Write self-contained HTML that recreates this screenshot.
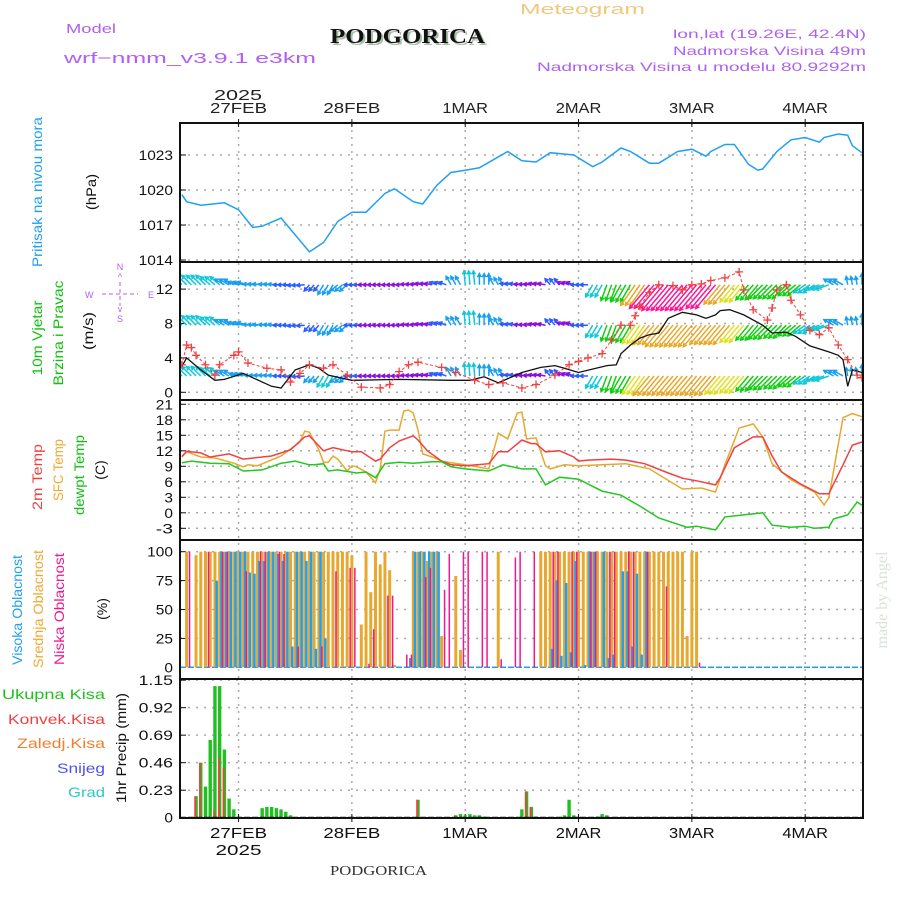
<!DOCTYPE html>
<html><head><meta charset="utf-8"><style>
html,body{margin:0;padding:0;background:#fff;}
svg{display:block;font-family:"Liberation Sans",sans-serif;}
</style></head><body>
<svg id="chart" width="900" height="900" viewBox="0 0 900 900" xmlns="http://www.w3.org/2000/svg">
<defs>
<clipPath id="cw"><rect x="180" y="262" width="683" height="138"/></clipPath>
<clipPath id="cp"><rect x="180" y="123" width="683" height="139"/></clipPath>
</defs>
<g>
<text x="66" y="33" font-size="13" fill="#b060f0" textLength="50" lengthAdjust="spacingAndGlyphs">Model</text>
<text x="64" y="63" font-size="15" fill="#b060f0" textLength="252" lengthAdjust="spacingAndGlyphs">wrf−nmm_v3.9.1 e3km</text>
<text x="332" y="45" font-family="Liberation Serif,serif" font-weight="bold" font-size="21" fill="#a8c0a8" textLength="155" lengthAdjust="spacingAndGlyphs">PODGORICA</text>
<text x="330" y="43" font-family="Liberation Serif,serif" font-weight="bold" font-size="21" fill="#111" textLength="155" lengthAdjust="spacingAndGlyphs">PODGORICA</text>
<text x="520" y="14" font-size="15" fill="#f0c880" textLength="125" lengthAdjust="spacingAndGlyphs">Meteogram</text>
<text x="673" y="38" font-size="12" fill="#b060f0" textLength="193" lengthAdjust="spacingAndGlyphs">lon,lat (19.26E, 42.4N)</text>
<text x="673" y="55" font-size="12" fill="#b060f0" textLength="193" lengthAdjust="spacingAndGlyphs">Nadmorska Visina 49m</text>
<text x="537" y="71" font-size="12" fill="#b060f0" textLength="329" lengthAdjust="spacingAndGlyphs">Nadmorska Visina u modelu 80.9292m</text>
<text x="238" y="100" font-size="15" fill="#222" text-anchor="middle" textLength="48" lengthAdjust="spacingAndGlyphs">2025</text>
<text x="330" y="875" font-family="Liberation Serif,serif" font-size="14" fill="#333" textLength="97" lengthAdjust="spacingAndGlyphs">PODGORICA</text>
<text transform="translate(887,600) rotate(-90)" text-anchor="middle" font-family="Liberation Serif,serif" font-size="16" fill="#d8e2d8">made by Angel</text>
</g>
<g font-size="14">
<text transform="translate(42,192) rotate(-90)" text-anchor="middle" fill="#20a0f0" textLength="150" lengthAdjust="spacingAndGlyphs">Pritisak na nivou mora</text>
<text transform="translate(96,192) rotate(-90)" text-anchor="middle" fill="#111" textLength="36" lengthAdjust="spacingAndGlyphs">(hPa)</text>
<text transform="translate(42,338) rotate(-90)" text-anchor="middle" fill="#10c010" textLength="75" lengthAdjust="spacingAndGlyphs">10m Vjetar</text>
<text transform="translate(63,333) rotate(-90)" text-anchor="middle" fill="#10c010" textLength="105" lengthAdjust="spacingAndGlyphs">Brzina i Pravac</text>
<text transform="translate(93,331) rotate(-90)" text-anchor="middle" fill="#111" textLength="38" lengthAdjust="spacingAndGlyphs">(m/s)</text>
<g fill="#b060f0" font-size="9">
<text x="120" y="270" text-anchor="middle">N</text><text x="120" y="280" text-anchor="middle">^</text>
<text x="85" y="298">W</text><text x="148" y="298">E</text>
<text x="120" y="312" text-anchor="middle">v</text><text x="120" y="322" text-anchor="middle">S</text>
<line x1="102" y1="294" x2="138" y2="294" stroke="#b060f0" stroke-dasharray="4,3"/>
<line x1="120" y1="282" x2="120" y2="306" stroke="#b060f0" stroke-dasharray="4,3"/>
</g>
<text transform="translate(42,477) rotate(-90)" text-anchor="middle" fill="#f04040" textLength="66" lengthAdjust="spacingAndGlyphs">2m Temp</text>
<text transform="translate(63,470) rotate(-90)" text-anchor="middle" fill="#f0a830" textLength="62" lengthAdjust="spacingAndGlyphs">SFC Temp</text>
<text transform="translate(84,475) rotate(-90)" text-anchor="middle" fill="#10c010" textLength="80" lengthAdjust="spacingAndGlyphs">dewpt Temp</text>
<text transform="translate(105,470) rotate(-90)" text-anchor="middle" fill="#111">(C)</text>
<text transform="translate(22,610) rotate(-90)" text-anchor="middle" fill="#20a0f0" textLength="110" lengthAdjust="spacingAndGlyphs">Visoka Oblacnost</text>
<text transform="translate(43,609) rotate(-90)" text-anchor="middle" fill="#f0a830" textLength="118" lengthAdjust="spacingAndGlyphs">Srednja Oblacnost</text>
<text transform="translate(64,609) rotate(-90)" text-anchor="middle" fill="#f01890" textLength="112" lengthAdjust="spacingAndGlyphs">Niska Oblacnost</text>
<text transform="translate(107,609) rotate(-90)" text-anchor="middle" fill="#111">(%)</text>
<text x="105" y="699" text-anchor="end" fill="#20c020" textLength="103" lengthAdjust="spacingAndGlyphs">Ukupna Kisa</text>
<text x="105" y="724" text-anchor="end" fill="#f04040" textLength="97" lengthAdjust="spacingAndGlyphs">Konvek.Kisa</text>
<text x="105" y="748" text-anchor="end" fill="#f08030" textLength="88" lengthAdjust="spacingAndGlyphs">Zaledj.Kisa</text>
<text x="105" y="773" text-anchor="end" fill="#5050f0" textLength="48" lengthAdjust="spacingAndGlyphs">Snijeg</text>
<text x="105" y="797" text-anchor="end" fill="#30c8c8" textLength="37" lengthAdjust="spacingAndGlyphs">Grad</text>
<text transform="translate(126,748) rotate(-90)" text-anchor="middle" fill="#111" textLength="110" lengthAdjust="spacingAndGlyphs">1hr Precip (mm)</text>
</g>
<g id="grid"></g>
<g id="marks"></g>
<g id="frames"></g>
</svg>
<script>
const pressHours=[0,1,4,9,12,15,17,21,27,30,33,36,39,43,45,49,51,54,57,60,63,66,69,72,75,78,83,87,89,93,95,99,101,105,108,111,112,115,117,120,122,123,126,129,132,135,136,139,141,142,144];
const pressVals=[1019.6,1019.0,1018.7,1018.9,1018.3,1016.8,1016.9,1017.6,1014.7,1015.5,1017.3,1018.1,1018.1,1019.7,1020.1,1019.0,1018.8,1020.4,1021.5,1021.7,1021.9,1022.6,1023.3,1022.5,1022.4,1023.2,1023.0,1022.0,1022.4,1023.6,1023.3,1022.3,1022.3,1023.3,1023.5,1022.9,1023.3,1023.9,1023.9,1022.2,1021.7,1021.8,1023.3,1024.3,1024.5,1024.1,1024.5,1024.8,1024.7,1023.8,1023.2];
const pressTicks=[1014,1017,1020,1023];
const t2Hours=[0,1,4,6,10,13,19,23,26,27,30,32,36,38,41,42,44,46,49,50,52,55,57,60,65,67,69,72,74,75,77,80,83,84,86,91,94,98,103,106,109,113,114,117,121,123,125,127,131,135,137,140,142,144];
const t2Vals=[10.9,11.9,11.6,10.8,11.4,10.4,11.0,12.2,14.7,14.9,12,12.6,11.8,11.8,10.0,10.4,12.6,13.9,14.9,14.1,12,10,9.3,9.1,9.5,11.8,11.8,14.1,13.4,13.4,11.8,12,10.8,10,10.2,10.4,10.2,9.5,7.7,6.7,6.2,5.4,6.8,12.6,14.7,14.7,11,7.9,5.6,3.7,3.7,9.3,13.1,13.7];
const sfcHours=[0,1,4,7,11,13,14,16,21,25,26,27,29,30,31,32,33,35,36,37,39,41,42,43,44,46,47,48,49,50,51,53,55,57,60,65,67,69,71,72,73,75,77,78,81,84,89,94,99,106,110,113,115,118,121,123,125,129,134,136,137,140,142,144];
const sfcVals=[10.8,11.8,10.8,10.6,9.6,8.9,9.3,9.1,11,13.7,15.8,15.6,12.2,9.8,9.8,11,10.4,8.1,9.1,8.9,7.9,5.8,8.5,15.8,16,16,19.7,19.9,19.3,16,11.4,10.8,10,9.7,9.3,8.5,15.4,14.3,19.3,19.5,14.3,14.5,9.1,8.5,9.3,9.1,9.3,9.5,8.5,4.6,4.8,4.0,9.3,16.4,17.2,14.7,9.5,6.4,4,1.5,2.9,18.4,19.2,18.6];
const dewHours=[0,2,6,10,13,17,21,24,27,28,30,31,33,37,39,41,43,46,49,53,55,57,60,65,68,72,75,77,80,84,89,93,97,101,107,109,113,115,119,123,125,129,132,134,137,138,141,143,144];
const dewVals=[9.7,10,9.6,9.5,8.1,8.3,9.6,10,9.3,9.3,9.5,8.1,8.3,7.7,7.9,6.8,9.5,9.8,9.6,9.9,9.9,8.9,8.5,8.1,9.3,8.5,8.5,5.4,6.9,6.5,4.2,3.4,1.3,-1.0,-2.8,-2.6,-3.3,-0.8,-0.4,0.0,-2.4,-2.8,-2.6,-3,-2.8,-1.2,-0.4,2.1,1.5];
const tempTicks=[-3,0,3,6,9,12,15,18,21];
const wsHours=[0,1,4,7,9,13,15,19,21,24,27,29,31,36,46,57,61,64,67,72,76,79,81,84,90,92,93,95,97,99,101,103,106,109,111,113,114,116,119,123,125,128,130,133,137,139,140,141,142,144];
const wsVals=[3.0,4.0,2.6,1.4,1.5,2.2,1.7,0.7,0.5,2.6,3.2,2.8,2.0,1.4,1.5,1.4,1.4,1.8,1.1,2.3,2.9,3.1,2.8,2.3,3.1,3.2,4.5,5.5,6.3,6.7,6.9,8.6,9.3,9.0,8.6,9.0,9.5,9.6,9.0,7.8,6.9,7.0,6.5,5.4,4.7,4.3,3.8,0.7,2.6,2.3];
const gustHours=[0,1,2,3,5,7,8,11,12,14,18,21,23,25,27,30,32,35,38,42,44,46,48,50,55,58,62,65,68,72,75,79,82,84,86,89,91,93,95,96,97,99,101,104,106,108,110,112,115,118,119,121,124,125,126,128,129,131,133,135,137,139,141,143,144];
const gustVals=[3.2,5.5,5.2,4.3,3.2,2.0,3.2,4.3,4.7,3.4,2.8,2.6,1.2,2.2,3.2,2.8,3.2,2.0,0.6,0.5,0.9,2.4,3.2,3.5,2.9,2.3,1.4,0.9,1.1,0.5,0.9,2.0,3.2,3.6,4.0,4.5,6.1,7.8,7.8,8.9,10.0,11.6,12.5,12.4,11.9,12.5,12.6,13.0,13.3,14.0,11.9,9.6,8.4,9.8,11.9,12.5,10.7,9.0,7.2,6.7,7.5,5.5,3.8,2.0,1.7];
const windTicks=[0,4,8,12];
const arrowHours=[0,3,6,9,12,15,18,21,24,27,30,33,36,39,42,45,48,51,54,57,60,63,66,69,72,75,78,81,84,87,90,93,96,99,102,105,108,111,114,117,120,123,126,129,132,135,138,141,144];
const arrowDir=[135,135,140,150,165,175,175,180,185,230,240,220,180,180,180,180,175,170,160,120,95,90,120,170,175,170,130,160,180,240,250,240,235,230,230,230,230,230,230,230,230,225,225,220,215,200,150,100,90];
const arrowRowLevels=[12.5,7.8,1.9];
const windRow1=[4.8,4.8,4.5,4,4,3.5,3,2.5,2,2.5,4,3.5,2,1.5,1.5,1.5,1.5,1.5,2,3.5,5,4,3,2,1.5,1.5,2.5,1.5,2,5,6,7,9,11,12,12,12,11,9,8,7,7,7,6,5,5,4,3,4];
const windRow2=[4.8,4.8,4.5,4,4,3.5,3,2.5,2,2.5,4,3.5,2,1.5,1.5,1.5,1.5,1.5,2,3.5,5,4,3,2,1.5,1.5,2.5,1.5,2,5,6,7,8,9,10,10,10,9,9,8,7,7,6.5,6,5,5,4,3,4];
const windRow3=[4.8,4.8,4.5,4,3.5,3,3,2.5,2,3,4.5,3.5,2,1.5,1.5,1.5,1.5,1.5,2,3.5,4.5,4,3,2,1.5,1.5,2.5,1.5,2,5,6,7,8,9,9,9,9,9,8.5,8,7,7,6.5,6,5,5,4,3,4];
const highHours=[7,8,9,10,11,12,13,14,15,16,17,18,19,20,21,22,23,24,25,26,27,28,29,30,48,49,50,51,52,53,54,78,79,80,81,82,83,85,86,87,89,90,91,93,94,95,96,97,98];
const highVals=[75,100,100,100,100,100,100,82,81,92,92,100,100,98,92,100,18,100,100,92,100,16,100,25,8,100,100,100,100,100,100,16,75,10,73,13,92,2,100,100,100,8,11,83,83,18,81,11,100];
const midHours=[1,3,4,5,6,7,8,9,10,11,12,13,14,15,16,17,18,19,20,21,22,23,24,25,26,27,28,29,30,31,32,33,34,35,36,38,39,40,41,42,43,44,45,49,50,51,52,53,54,55,58,59,67,76,77,78,79,80,81,82,83,84,85,86,87,88,89,90,91,92,93,94,95,96,97,98,99,100,101,102,103,104,105,106,107,108,109];
const midVals=[100,97,100,100,100,100,100,100,100,100,100,100,100,100,100,100,100,100,100,100,100,100,100,100,100,100,100,100,100,100,100,100,100,100,97,37,100,65,100,89,100,84,2,100,100,100,92,100,100,27,79,15,100,100,100,100,100,100,100,100,100,100,100,100,100,100,100,100,100,100,100,100,100,100,100,100,100,100,100,100,100,100,100,100,27,100,100];
const lowHours=[2,6,9,10,14,17,18,21,22,25,30,33,36,37,40,41,44,45,48,49,52,53,56,57,60,61,64,65,68,71,72,75,79,80,83,84,87,88,91,92,95,96,99,103,110];
const lowVals=[100,100,100,100,83,100,100,100,98,18,18,83,86,86,3,33,62,62,11,11,78,86,67,98,100,100,100,100,7,95,100,100,100,100,100,100,100,100,100,100,100,100,100,70,4];
const cloudTicks=[0,25,50,75,100];
const precipHours=[3,4,5,6,7,8,9,10,11,17,18,19,20,21,22,23,50,58,59,60,61,62,63,64,72,73,74,75,81,82,83,88,89,90];
const precipTotal=[0.18,0.46,0.26,0.65,1.1,1.1,0.57,0.16,0.07,0.08,0.09,0.09,0.08,0.07,0.05,0.02,0.15,0.02,0.03,0.02,0.03,0.02,0.02,0.01,0.07,0.22,0.09,0.01,0.02,0.15,0.02,0.01,0.03,0.02];
const precipConv=[0.18,0.46,0,0,0.06,0.5,0.42,0,0,0,0,0,0,0,0,0,0.15,0.02,0,0,0,0,0,0,0,0.22,0.09,0,0,0,0,0,0,0];
const precipTicks=[0,0.23,0.46,0.69,0.92,1.15];
const dayHours=[12,36,60,84,108,132];
const dayLabels=["27FEB","28FEB","1MAR","2MAR","3MAR","4MAR"];

const NS="http://www.w3.org/2000/svg";
const X=h=>180+(h+0.4)*4.722;
const YP=p=>155+(1023-p)*11.67;
const YW=v=>392.3-v*8.6;
const YT=t=>404.3+(21-t)*5.167;
const YC=c=>667.3-c*1.156;
const YR=r=>817.7-r*119.6;
const grid=document.getElementById('grid'),marks=document.getElementById('marks'),frames=document.getElementById('frames');
function mk(tag,attrs,parent){const e=document.createElementNS(NS,tag);for(const k in attrs)e.setAttribute(k,attrs[k]);parent.appendChild(e);return e;}
function txt(s,attrs,parent){const e=mk('text',attrs,parent);e.textContent=s;return e;}
const panels=[[123,262],[262,400],[400,540],[540,679],[679,818]];
dayHours.forEach((h,i)=>{
  const l=mk('line',{x1:X(h),x2:X(h),y1:123,y2:818,stroke:'#aaa','stroke-dasharray':'2,5','stroke-width':1.5},grid);
  
  
  const tl=dayLabels[i].length*11.4;
  const t=txt(dayLabels[i],{x:X(h),y:113,'font-size':15,'text-anchor':'middle',fill:'#222',textLength:tl,lengthAdjust:'spacingAndGlyphs'},grid);
  
  
  const b=txt(dayLabels[i],{x:X(h),y:838,'font-size':15,'text-anchor':'middle',fill:'#111',textLength:tl,lengthAdjust:'spacingAndGlyphs'},grid);
  
  
  [123,818].forEach(y=>mk('line',{x1:X(h),x2:X(h),y1:y-4,y2:y+4,stroke:'#111'},grid));
});
const yb=txt('2025',{x:X(12),y:855,'font-size':15,'text-anchor':'middle',fill:'#111',textLength:46,lengthAdjust:'spacingAndGlyphs'},grid);


function hticks(ticks,fy,fmt,name){
  ticks.forEach(v=>{
    const y=fy(v);
    const g=mk('line',{x1:180,x2:863,y1:y,y2:y,stroke:'#aaa','stroke-dasharray':'2,6','stroke-width':1.5},grid);
    
    
    mk('line',{x1:180,x2:186,y1:y,y2:y,stroke:'#111'},grid);
    const s=fmt(v);
    const t=txt(s,{x:173,y:y+5,'font-size':14,'text-anchor':'end',fill:'#111',textLength:s.length*8.6,lengthAdjust:'spacingAndGlyphs'},grid);
    
    
  });
}
hticks(pressTicks,YP,v=>String(v),'pressure');
hticks(windTicks,YW,v=>String(v),'wind');
hticks(tempTicks,YT,v=>String(v),'temp');
hticks(cloudTicks,YC,v=>String(v),'cloud');
hticks(precipTicks,YR,v=>v===0?'0':v.toFixed(2),'precip');

function line(hs,vs,fy,color,name,w,parent,extra){
  const d=hs.map((h,i)=>(i?'L':'M')+X(h).toFixed(1)+','+fy(vs[i]).toFixed(1)).join('');
  const p=mk('path',Object.assign({d:d,fill:'none',stroke:color,'stroke-width':w||1.5},extra||{}),parent||marks);
  
  
  return p;
}
const pg=mk('g',{'clip-path':'url(#cp)'},marks);
line(pressHours,pressVals,YP,'#20a0f0','pressure-line',1.5,pg);
const wg=mk('g',{'clip-path':'url(#cw)'},marks);
function wcol(s){return s<2?'#8a10e0':s<3?'#2a5cff':s<4.5?'#18a0f0':s<5.5?'#10c8d8':s<7.5?'#10d010':s<9?'#e0e020':s<10.5?'#e8a828':'#ff1493';}
[windRow1,windRow2,windRow3].forEach((row,ri)=>{
  const y0=YW(arrowRowLevels[ri]);
  arrowHours.forEach((h,i)=>{
    for(let k=0;k<3;k++){
      if(h+k>144)break;
      const s=row[i],a=arrowDir[i]*Math.PI/180,L=Math.max(8,s*2.8);
      const x0=X(h+k),x1=x0+Math.cos(a)*L,y1=y0-Math.sin(a)*L;
      const c=wcol(s);
      const hl=4,a1=a+Math.PI-0.5,a2=a+Math.PI+0.5;
      const ar=mk('path',{d:`M${x0.toFixed(1)},${y0.toFixed(1)}L${x1.toFixed(1)},${y1.toFixed(1)}M${(x1+Math.cos(a1)*hl).toFixed(1)},${(y1-Math.sin(a1)*hl).toFixed(1)}L${x1.toFixed(1)},${y1.toFixed(1)}L${(x1+Math.cos(a2)*hl).toFixed(1)},${(y1-Math.sin(a2)*hl).toFixed(1)}`,stroke:c,'stroke-width':1.5,fill:'none'},wg);
      
      
    }
  });
});
line(wsHours,wsVals,YW,'#111','wind-speed-line',1.3,wg);
line(gustHours,gustVals,YW,'#f04040','wind-gust-line',1,wg,{'stroke-dasharray':'3,2'});
gustHours.forEach((h,i)=>{
  const x=X(h),y=YW(gustVals[i]);
  const c=mk('path',{d:`M${x-4},${y}h8M${x},${y-4}v8`,stroke:'#f04040','stroke-width':1.3},wg);
  
  
});
line(sfcHours,sfcVals,YT,'#e8a830','sfc-temp-line',1.5);
line(t2Hours,t2Vals,YT,'#f04040','temp-2m-line',1.5);
line(dewHours,dewVals,YT,'#20c820','dewpoint-line',1.5);
mk('line',{x1:180,x2:863,y1:YC(0),y2:YC(0),stroke:'#20a0f0','stroke-width':1.5,'stroke-dasharray':'6,2'},marks);
midHours.forEach((h,i)=>{
  const r=mk('rect',{x:X(h)-1.5,y:YC(midVals[i]),width:3,height:YC(0)-YC(midVals[i]),fill:'#e8a830'},marks);
  
  
});
highHours.forEach((h,i)=>{
  const r=mk('rect',{x:X(h)+0.5,y:YC(highVals[i]),width:2.5,height:YC(0)-YC(highVals[i]),fill:'#20a0f0'},marks);
  
  
});
lowHours.forEach((h,i)=>{
  const r=mk('rect',{x:X(h)-2.5,y:YC(lowVals[i]),width:1.5,height:YC(0)-YC(lowVals[i]),fill:'#f01890'},marks);
  
  
});
precipHours.forEach((h,i)=>{
  const r=mk('rect',{x:X(h)-1.7,y:YR(precipTotal[i]),width:3.4,height:YR(0)-YR(precipTotal[i]),fill:'#20c020'},marks);
  
  
  if(precipConv[i]>0){
    const c=mk('rect',{x:X(h)-1.7,y:YR(precipConv[i]),width:1.8,height:YR(0)-YR(precipConv[i]),fill:'#f04040'},marks);
    
    
  }
});
mk('line',{x1:180,x2:863,y1:YR(0),y2:YR(0),stroke:'#111','stroke-width':2,'stroke-dasharray':'6,2'},marks);
panels.forEach((p,i)=>{
  const r=mk('rect',{x:180,y:p[0],width:683,height:p[1]-p[0],fill:'none',stroke:'#111','stroke-width':2},frames);
  
  
});
</script>
</body></html>
